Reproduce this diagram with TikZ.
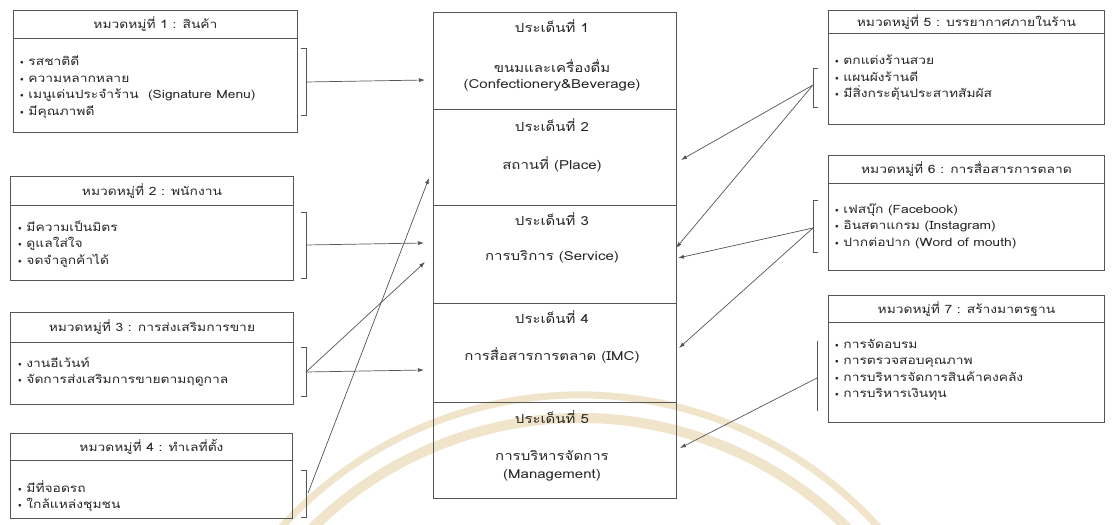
\documentclass[tikz,border=0pt]{standalone}
\usepackage{fontspec}
\usepackage{graphicx}
\setmainfont[Script=Thai, FakeStretch=1.2]{Loma}
\usetikzlibrary{arrows.meta}
\definecolor{ln}{HTML}{555555}
\definecolor{tx}{HTML}{262626}
\definecolor{wm}{HTML}{F0E5CA}
\newcommand\bul{\raisebox{0.15ex}{\scalebox{0.6}{$\bullet$}}\ }
\begin{document}
\begin{tikzpicture}[x=1pt,y=-1pt,
  box/.style={draw=ln, line width=0.9pt, anchor=north west, inner sep=0pt},
  ttl/.style={text=tx, font=\fontsize{11.5}{12}\selectfont, inner sep=0pt},
  itm/.style={text=tx, font=\fontsize{11.5}{16.5}\selectfont, align=left, anchor=west, inner sep=0pt},
  ctx/.style={text=tx, font=\fontsize{12.5}{13}\selectfont, inner sep=0pt},
  brk/.style={draw=ln, line width=0.7pt},
  arr/.style={draw=ln, line width=0.7pt, -{Latex[length=6pt,width=4pt]}}]
\useasboundingbox (0,0) rectangle (1112,525);
\fill[white] (0,0) rectangle (1112,525);
% watermark arcs
\begin{scope}
\clip (0,0) rectangle (1112,525);
\draw[wm, line width=7pt] (580,798) ++(200:403) arc[start angle=200, end angle=340, radius=403];
\draw[wm, line width=10pt] (580,798) ++(205:380) arc[start angle=205, end angle=335, radius=380];
\end{scope}
% ---------- left category boxes ----------
\node[box, minimum width=284pt, minimum height=28pt] (c1h) at (13,10) {};
\node[box, minimum width=284pt, minimum height=94pt] (c1b) at (13,38) {};
\node[ttl] (c1t) at (c1h.center) {หมวดหมู่ที่ 1 : สินค้า};
\node[itm] (c1i) at (20,87) {\bul รสชาติดี\\ \bul ความหลากหลาย\\ \bul เมนูเด่นประจำร้าน \ (Signature Menu)\\ \bul มีคุณภาพดี};

\node[box, minimum width=283pt, minimum height=29pt] (c2h) at (10,176) {};
\node[box, minimum width=283pt, minimum height=75pt] (c2b) at (10,205) {};
\node[ttl] (c2t) at (c2h.center) {หมวดหมู่ที่ 2 : พนักงาน};
\node[itm] (c2i) at (18,244) {\bul มีความเป็นมิตร\\ \bul ดูแลใส่ใจ\\ \bul จดจำลูกค้าได้};

\node[box, minimum width=283pt, minimum height=30pt] (c3h) at (10,312) {};
\node[box, minimum width=283pt, minimum height=62pt] (c3b) at (10,342) {};
\node[ttl] (c3t) at (c3h.center) {หมวดหมู่ที่ 3 : การส่งเสริมการขาย};
\node[itm] (c3i) at (18,372) {\bul งานอีเว้นท์\\ \bul จัดการส่งเสริมการขายตามฤดูกาล};

\node[box, minimum width=282pt, minimum height=27pt] (c4h) at (10,433) {};
\node[box, minimum width=282pt, minimum height=58pt] (c4b) at (10,460) {};
\node[ttl] (c4t) at (c4h.center) {หมวดหมู่ที่ 4 : ทำเลที่ตั้ง};
\node[itm] (c4i) at (18,496) {\bul มีที่จอดรถ\\ \bul ใกล้แหล่งชุมชน};

% ---------- right category boxes ----------
\node[box, minimum width=276pt, minimum height=23pt] (c5h) at (828,10) {};
\node[box, minimum width=276pt, minimum height=91pt] (c5b) at (828,33) {};
\node[ttl] (c5t) at (c5h.center) {หมวดหมู่ที่ 5 : บรรยากาศภายในร้าน};
\node[itm] (c5i) at (835,78) {\bul ตกแต่งร้านสวย\\ \bul แผนผังร้านดี\\ \bul มีสิ่งกระตุ้นประสาทสัมผัส};

\node[box, minimum width=276pt, minimum height=28pt] (c6h) at (828,155) {};
\node[box, minimum width=276pt, minimum height=87pt] (c6b) at (828,183) {};
\node[ttl] (c6t) at (c6h.center) {หมวดหมู่ที่ 6 : การสื่อสารการตลาด};
\node[itm] (c6i) at (835,226) {\bul เฟสบุ๊ก (Facebook)\\ \bul อินสตาแกรม (Instagram)\\ \bul ปากต่อปาก (Word of mouth)};

\node[box, minimum width=276pt, minimum height=27pt] (c7h) at (828,295) {};
\node[box, minimum width=276pt, minimum height=100pt] (c7b) at (828,322) {};
\node[ttl] (c7t) at (c7h.center) {หมวดหมู่ที่ 7 : สร้างมาตรฐาน};
\node[itm] (c7i) at (835,370) {\bul การจัดอบรม\\ \bul การตรวจสอบคุณภาพ\\ \bul การบริหารจัดการสินค้าคงคลัง\\ \bul การบริหารเงินทุน};

% ---------- centre column ----------
\node[box, minimum width=243pt, minimum height=97pt] (p1) at (433,12) {};
\node[box, minimum width=243pt, minimum height=96pt] (p2) at (433,109) {};
\node[box, minimum width=243pt, minimum height=98pt] (p3) at (433,205) {};
\node[box, minimum width=243pt, minimum height=99pt] (p4) at (433,303) {};
\node[box, minimum width=243pt, minimum height=96pt] (p5) at (433,402) {};
\node[ctx] (p1t) at (552,26) {ประเด็นที่ 1};
\node[ctx] (p1a) at (552,66) {ขนมและเครื่องดื่ม};
\node[ctx] (p1b) at (552,85) {(Confectionery\&Beverage)};
\node[ctx] (p2t) at (552,125) {ประเด็นที่ 2};
\node[ctx] (p2a) at (552,164) {สถานที่ (Place)};
\node[ctx] (p3t) at (552,219) {ประเด็นที่ 3};
\node[ctx] (p3a) at (552,257) {การบริการ (Service)};
\node[ctx] (p4t) at (552,317) {ประเด็นที่ 4};
\node[ctx] (p4a) at (552,355) {การสื่อสารการตลาด (IMC)};
\node[ctx] (p5t) at (552,417) {ประเด็นที่ 5};
\node[ctx] (p5a) at (552,456) {การบริหารจัดการ};
\node[ctx] (p5b) at (552,475) {(Management)};

% ---------- brackets ----------
\draw[brk] (301,48) -- (306,48) -- (306,115) -- (301,115);
\draw[brk] (301,212) -- (306,212) -- (306,278) -- (301,278);
\draw[brk] (301,347) -- (306,347) -- (306,396) -- (301,396);
\draw[brk] (301,470) -- (306,470) -- (306,517) -- (301,517);
\draw[brk] (818,68) -- (813,68) -- (813,107) -- (818,107);
\draw[brk] (818,200) -- (813,200) -- (813,252) -- (818,252);
\draw[brk] (818,341) -- (817,341) -- (817,410) -- (818,410);

\coordinate (l1) at (306,82);
\coordinate (l2) at (306,245);
\coordinate (l3) at (306,372);
\coordinate (l4) at (308,493);
\coordinate (r5) at (813,85);
\coordinate (r6) at (813,228);
\coordinate (r7) at (817,378);

\coordinate (t1) at (425,80);
\coordinate (t2) at (424,243);
\coordinate (t3a) at (424,370);
\coordinate (t3b) at (425,262);
\coordinate (t4) at (429,178);
\coordinate (u2) at (681,160);
\coordinate (u3a) at (676,248);
\coordinate (u3b) at (678,258);
\coordinate (u4) at (679,348);
\coordinate (u5) at (680,448);

% ---------- arrows ----------
\draw[arr] (l1) -- (t1);
\draw[arr] (l2) -- (t2);
\draw[arr] (l3) -- (t3a);
\draw[arr] (l3) -- (t3b);
\draw[arr] (l4) -- (t4);
\draw[arr] (r5) -- (u2);
\draw[arr] (r5) -- (u3a);
\draw[arr] (r6) -- (u3b);
\draw[arr] (r6) -- (u4);
\draw[arr] (r7) -- (u5);
\end{tikzpicture}
\end{document}
